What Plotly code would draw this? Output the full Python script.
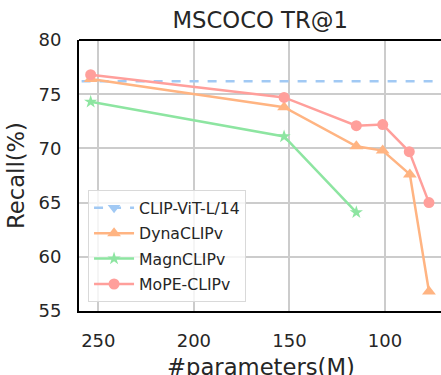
import plotly.graph_objects as go

params_mope = [254, 152.8, 115, 101.2, 87.3, 77]
recall_mope = [76.8, 74.7, 72.1, 72.2, 69.7, 65.0]
params_dyna = [254, 152.8, 115, 101.2, 87.0, 77]
recall_dyna = [76.4, 73.8, 70.2, 69.8, 67.6, 56.8]
params_magn = [254, 152.8, 115]
recall_magn = [74.3, 71.1, 64.1]
params_clip = [400, 0]
recall_clip = [76.2, 76.2]

blue = "#a1c9f4"; orange = "#ffb482"; green = "#8de5a1"; red = "#ff9f9b"

fig = go.Figure()
fig.add_trace(go.Scatter(x=params_clip, y=recall_clip, name="CLIP-ViT-L/14", mode="lines+markers",
                         line=dict(color=blue, width=2.5, dash="dash"), legendgroup="a",
                         marker=dict(symbol="triangle-down", size=11, color=blue)))
fig.add_trace(go.Scatter(x=params_dyna, y=recall_dyna, name="DynaCLIPv", mode="lines+markers",
                         line=dict(color=orange, width=2.5), cliponaxis=False, legendgroup="b",
                         marker=dict(symbol="triangle-up", size=12, color=orange)))
fig.add_trace(go.Scatter(x=params_magn, y=recall_magn, name="MagnCLIPv", mode="lines+markers",
                         line=dict(color=green, width=2.5), cliponaxis=False, legendgroup="c",
                         marker=dict(symbol="star", size=10, color=green)))
fig.add_trace(go.Scatter(x=params_mope, y=recall_mope, name="MoPE-CLIPv", mode="lines+markers",
                         line=dict(color=red, width=2.5), cliponaxis=False, legendgroup="d",
                         marker=dict(symbol="circle", size=11, color=red)))

font = "DejaVu Sans"
fig.update_layout(
    width=441, height=375,
    margin=dict(l=79, r=0, t=40, b=64),
    plot_bgcolor="white", paper_bgcolor="white",
    font=dict(family=font, color="#262626", size=18),
    title=dict(text="MSCOCO TR@1", x=0.59, xanchor="center", y=0.947, yanchor="middle",
               font=dict(size=22.7, family=font, color="#262626")),
    xaxis=dict(range=[260.1, 70.7], tickvals=[250, 200, 150, 100], showgrid=True,
               gridcolor="#cccccc", gridwidth=1.5, zeroline=False, automargin=False,
               showline=True, linecolor="black", linewidth=2, mirror=False,
               ticks="", tickfont=dict(size=18), ticklabelstandoff=12),
    yaxis=dict(range=[55, 80], tickvals=[55, 60, 65, 70, 75, 80], showgrid=True,
               gridcolor="#cccccc", gridwidth=1.5, zeroline=False, automargin=False,
               showline=True, linecolor="black", linewidth=2,
               ticks="", tickfont=dict(size=18), ticklabelstandoff=12,
               title=dict(text="Recall(%)", font=dict(size=22.7), standoff=8)),
    legend=dict(x=0.025, y=0.033, xanchor="left", yanchor="bottom",
                bgcolor="rgba(255,255,255,0.8)", bordercolor="#d9d9d9", borderwidth=1,
                traceorder="grouped", tracegroupgap=2, itemwidth=40,
                font=dict(size=15.7, family=font, color="#262626")),
    showlegend=True,
)
fig.add_annotation(text="#parameters(M)", xref="paper", yref="paper", x=0.503, y=-0.205,
                   xanchor="center", yanchor="middle", showarrow=False,
                   font=dict(size=22.7, family=font, color="#262626"))
fig.add_shape(type="line", xref="paper", yref="paper", x0=0, x1=1, y0=1, y1=1,
              line=dict(color="black", width=2))
fig.write_html("out.html", config={"displayModeBar": False},
               post_script="document.body.style.margin='0';document.body.style.overflow='hidden';")
